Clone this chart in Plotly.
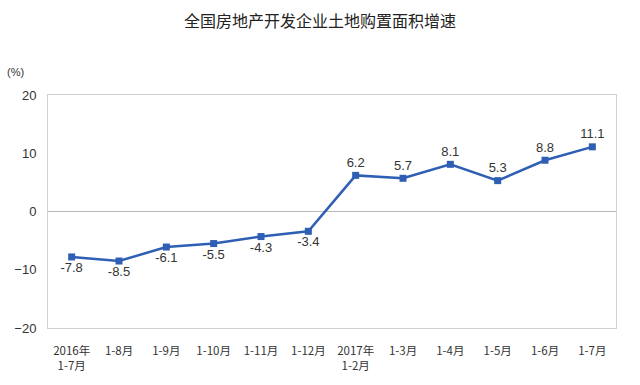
import plotly.graph_objects as go

categories = ["2016年<br>1-7月", "1-8月", "1-9月", "1-10月", "1-11月", "1-12月",
              "2017年<br>1-2月", "1-3月", "1-4月", "1-5月", "1-6月", "1-7月"]
values = [-7.8, -8.5, -6.1, -5.5, -4.3, -3.4, 6.2, 5.7, 8.1, 5.3, 8.8, 11.1]
y_ticks = [-20, -10, 0, 10, 20]

labels = [f"{v:.1f}" for v in values]
positions = ["top center" if v > 0 else "bottom center" for v in values]

fig = go.Figure()
fig.add_trace(go.Scatter(
    x=categories, y=values,
    mode="lines+markers+text",
    line=dict(color="#2E5FB4", width=2.5),
    marker=dict(symbol="square", size=7, color="#2E5FB4"),
    text=labels, textposition=positions,
    textfont=dict(family="Liberation Sans, Arial", size=13, color="#333333"),
    cliponaxis=False,
    showlegend=False,
))

fig.update_layout(
    width=640, height=385,
    margin=dict(l=48, r=24, t=95, b=57),
    paper_bgcolor="white", plot_bgcolor="white",
    title=dict(text="全国房地产开发企业土地购置面积增速",
               font=dict(family="Noto Sans CJK SC", size=16, color="#222222"),
               x=0.5, xanchor="center", y=0.945, yanchor="middle"),
    xaxis=dict(
        type="category", showgrid=False, zeroline=False,
        showline=True, linecolor="#d0d0d0", linewidth=1, mirror=True,
        ticks="", ticklabelstandoff=12,
        tickfont=dict(family="Noto Sans CJK SC", size=11.5, color="#333333"),
        range=[-0.5, len(categories) - 0.5],
    ),
    yaxis=dict(
        range=[-20, 20], tickvals=y_ticks, showgrid=False,
        zeroline=True, zerolinecolor="#b8b8b8", zerolinewidth=1,
        showline=True, linecolor="#d0d0d0", linewidth=1, mirror=True,
        ticks="", ticklabelstandoff=8,
        tickfont=dict(family="Liberation Sans, Arial", size=13, color="#333333"),
    ),
    annotations=[dict(text="(%)", xref="paper", yref="paper", x=-0.075, y=1.1,
                      xanchor="left", yanchor="middle", showarrow=False,
                      font=dict(family="Liberation Sans, Arial", size=11, color="#333333"))],
)

fig.write_html("out.html")
